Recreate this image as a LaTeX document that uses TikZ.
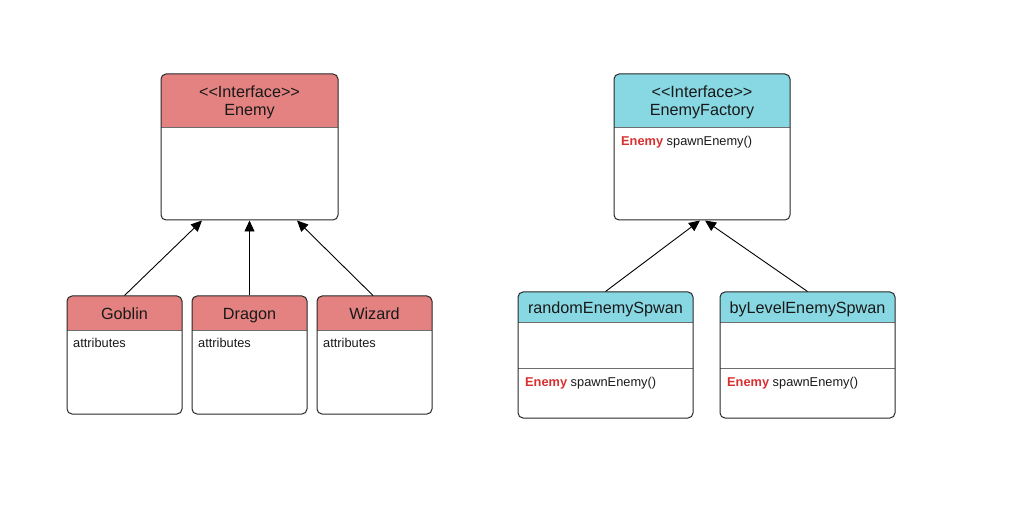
\documentclass[tikz,border=0pt]{standalone}
\usepackage{fontspec}
\setmainfont{Liberation Sans}
\usetikzlibrary{arrows.meta}
\definecolor{hdrred}{RGB}{227,130,129}
\definecolor{hdrcyan}{RGB}{136,216,228}
\definecolor{boxline}{RGB}{40,40,40}
\definecolor{sepline}{RGB}{110,110,110}
\definecolor{kwred}{RGB}{214,48,48}
\tikzset{
  classbox/.style={draw=boxline, line width=1pt, rounded corners=5pt, inner sep=0pt, fill=none},
  title/.style={font=\fontsize{16.2}{18}\selectfont, align=center, inner sep=0pt, anchor=base, text=black!90},
  body/.style={font=\fontsize{12.8}{14}\selectfont, anchor=base west, inner sep=0pt, text=black!90},
  inherit/.style={draw=black, line width=0.9pt, -{Triangle[length=11pt,width=10pt]}},
  sep/.style={draw=sepline, line width=0.9pt}
}
\newcommand{\hdr}[5]{% color, x1, y1, x2, y2
  \fill[#1, rounded corners=5pt] (#2,#3) rectangle (#4,#5);
  \fill[#1] (#2,#3+8) rectangle (#4,#5);
  \draw[sep] (#2,#5) -- (#4,#5);
}
\begin{document}
\begin{tikzpicture}[x=1pt,y=-1pt]
\useasboundingbox (0,0) rectangle (1011,510);
% Enemy interface
\hdr{hdrred}{161}{74}{338}{127}
\node[classbox, minimum width=177pt, minimum height=146pt] (enemy) at (249.5,147) {};
\node[title] (enemyT) at (249.5,116) {<{}<Interface>{}>\\Enemy};
% EnemyFactory interface
\hdr{hdrcyan}{614}{74}{790}{127}
\node[classbox, minimum width=176pt, minimum height=146pt] (factory) at (702,147) {};
\node[title] (factoryT) at (702,116) {<{}<Interface>{}>\\EnemyFactory};
\node[body] (factoryM) at (621,146) {\textcolor{kwred}{\textbf{Enemy}} spawnEnemy()};
% Goblin
\hdr{hdrred}{67}{296}{182}{330}
\node[classbox, minimum width=115pt, minimum height=118pt] (goblin) at (124.5,355) {};
\node[title] (goblinT) at (124.5,319.5) {Goblin};
\node[body] (goblinA) at (73,347) {attributes};
% Dragon
\hdr{hdrred}{192}{296}{307}{330}
\node[classbox, minimum width=115pt, minimum height=118pt] (dragon) at (249.5,355) {};
\node[title] (dragonT) at (249.5,319.5) {Dragon};
\node[body] (dragonA) at (198,347) {attributes};
% Wizard
\hdr{hdrred}{317}{296}{432}{330}
\node[classbox, minimum width=115pt, minimum height=118pt] (wizard) at (374.5,355) {};
\node[title] (wizardT) at (374.5,319.5) {Wizard};
\node[body] (wizardA) at (323,347) {attributes};
% randomEnemySpwan
\hdr{hdrcyan}{518}{292}{693}{322}
\draw[sep] (518,368) -- (693,368);
\node[classbox, minimum width=175pt, minimum height=126pt] (random) at (605.5,355) {};
\node[title] (randomT) at (605.5,313.5) {randomEnemySpwan};
\node[body] (randomM) at (525,386.5) {\textcolor{kwred}{\textbf{Enemy}} spawnEnemy()};
% byLevelEnemySpwan
\hdr{hdrcyan}{720}{292}{895}{322}
\draw[sep] (720,368) -- (895,368);
\node[classbox, minimum width=175pt, minimum height=126pt] (bylevel) at (807.5,355) {};
\node[title] (bylevelT) at (807.5,313.5) {byLevelEnemySpwan};
\node[body] (bylevelM) at (727,386.5) {\textcolor{kwred}{\textbf{Enemy}} spawnEnemy()};
% inheritance arrows
\draw[inherit] (goblin.north) -- ([xshift=-47.5pt]enemy.south);
\draw[inherit] (dragon.north) -- (enemy.south);
\draw[inherit] ([xshift=-1.5pt]wizard.north) -- ([xshift=47.5pt]enemy.south);
\draw[inherit] (random.north) -- ([xshift=-2pt]factory.south);
\draw[inherit] (bylevel.north) -- ([xshift=3pt]factory.south);
\end{tikzpicture}
\end{document}
